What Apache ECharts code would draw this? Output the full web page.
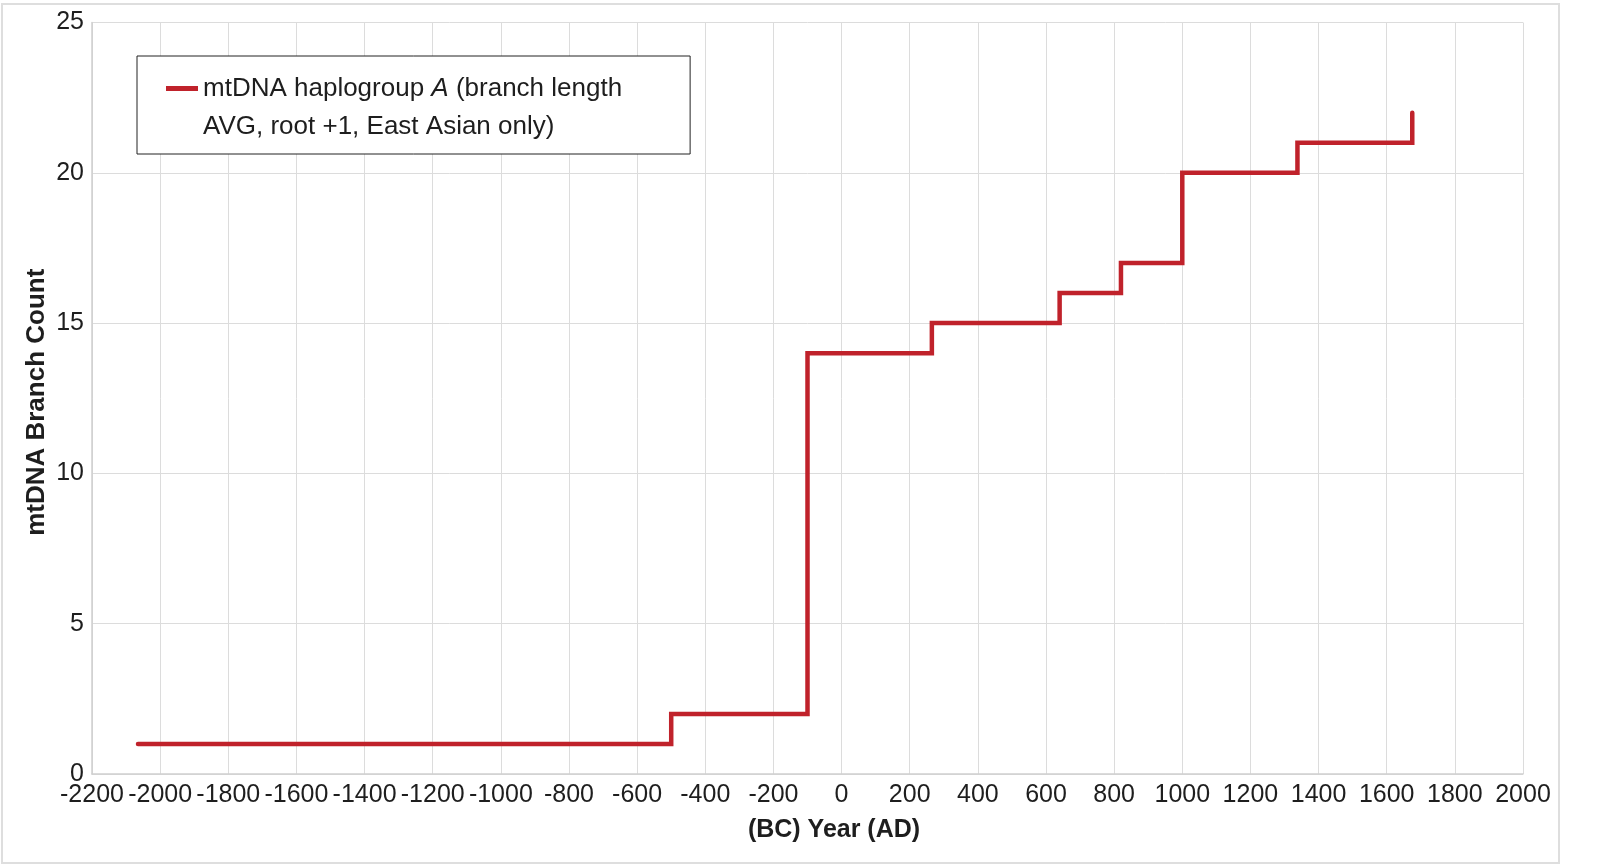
<!DOCTYPE html>
<html>
<head>
<meta charset="utf-8">
<script src="https://cdn.jsdelivr.net/npm/echarts@6/dist/echarts.min.js"></script>
<style>
html,body{margin:0;padding:0;background:#fff;}
#chart{width:1600px;height:864px;}
</style>
</head>
<body>
<div id="chart"></div>
<script>
// ---- data ----
var years  = [-2065, -500, -100, 265, 640, 820, 1000, 1338, 1675];
var counts = [1, 2, 14, 15, 16, 17, 20, 21, 22];
var xTicks = { min: -2200, max: 2000, interval: 200 };
var yTicks = { min: 0, max: 25, interval: 5 };
var seriesName = 'mtDNA haplogroup A (branch length AVG, root +1, East Asian only)';
var legendLine1a = 'mtDNA haplogroup ';
var legendLine1b = 'A';
var legendLine1c = ' (branch length';
var legendLine2 = 'AVG, root +1, East Asian only)';
var xTitle = '(BC) Year (AD)';
var yTitle = 'mtDNA Branch Count';

var FONT = '"Liberation Sans", Arial, sans-serif';
var TXT = '#1e1e1e';
var RED = '#C0222B';

var points = years.map(function (y, i) { return [y, counts[i]]; });

var chart = echarts.init(document.getElementById('chart'), null, { renderer: 'canvas' });
chart.setOption({
  animation: false,
  backgroundColor: '#ffffff',
  textStyle: { fontFamily: FONT },
  graphic: [{
    type: 'rect', silent: true, z: -10,
    shape: { x: 2, y: 4, width: 1557, height: 859 },
    style: { fill: 'none', stroke: '#dedede', lineWidth: 2 }
  }],
  grid: { left: 92, right: 77, top: 22.5, bottom: 90, containLabel: false, outerBoundsMode: 'none' },
  legend: {
    show: true,
    left: 137, top: 56,
    orient: 'vertical',
    padding: [13.5, 68, 8.5, 29],
    borderColor: '#222', borderWidth: 1,
    backgroundColor: '#fff',
    itemWidth: 32, itemHeight: 76,
    icon: 'path://M0,16.5H32V21.5H0Z M0,0H0.01V0.01H0Z M31.99,75.99H32V76H31.99Z',
    itemStyle: { color: RED, borderWidth: 0 },
    data: [seriesName],
    formatter: function () {
      return '{n|' + legendLine1a + '}{i|' + legendLine1b + '}{n|' + legendLine1c + '}\n{n|' + legendLine2 + '}';
    },
    textStyle: {
      fontFamily: FONT, fontSize: 26, color: TXT, lineHeight: 38,
      rich: {
        n: { fontFamily: FONT, fontSize: 26, color: TXT, lineHeight: 38 },
        i: { fontFamily: FONT, fontSize: 26, color: TXT, lineHeight: 38, fontStyle: 'italic' }
      }
    }
  },
  xAxis: {
    type: 'value',
    min: xTicks.min, max: xTicks.max, interval: xTicks.interval,
    name: xTitle,
    nameLocation: 'middle',
    nameGap: 44,
    nameMoveOverlap: false,
    nameTextStyle: { fontFamily: FONT, fontSize: 25, fontWeight: 'bold', color: TXT, padding: [0, 0, 0, 53] },
    axisLine: { show: true, onZero: false, lineStyle: { color: '#cfcfcf', width: 1.5 } },
    axisTick: { show: false },
    axisLabel: {
      margin: 9, fontFamily: FONT, fontSize: 25, color: TXT,
      formatter: function (v) { return String(v); }
    },
    splitLine: { show: true, lineStyle: { color: '#dcdcdc', width: 1 } }
  },
  yAxis: {
    type: 'value',
    min: yTicks.min, max: yTicks.max, interval: yTicks.interval,
    name: yTitle,
    nameLocation: 'middle',
    nameGap: 42,
    nameMoveOverlap: false,
    nameTextStyle: { fontFamily: FONT, fontSize: 26, fontWeight: 'bold', color: TXT, padding: [0, 8, 0, 0] },
    axisLine: { show: true, onZero: false, lineStyle: { color: '#cfcfcf', width: 1.5 } },
    axisTick: { show: false },
    axisLabel: {
      margin: 8, fontFamily: FONT, fontSize: 25, color: TXT,
      formatter: function (v) { return String(v); }
    },
    splitLine: { show: true, lineStyle: { color: '#dcdcdc', width: 1 } }
  },
  series: [{
    name: seriesName,
    type: 'line',
    step: 'end',
    data: points,
    showSymbol: false,
    symbol: 'none',
    lineStyle: { color: RED, width: 4.5, cap: 'round', join: 'miter' },
    itemStyle: { color: RED }
  }]
});
</script>
</body>
</html>
